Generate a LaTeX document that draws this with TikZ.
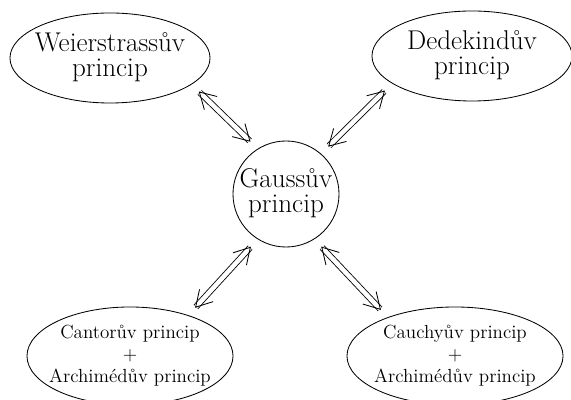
\documentclass[tikz,border=0pt]{standalone}
\usepackage{tikz}
\usetikzlibrary{arrows.meta, shapes.geometric}

\newcommand{\principtext}[1]{\makebox[0pt]{\begin{tabular}{@{}c@{}}#1\end{tabular}}}

\begin{document}
\begin{tikzpicture}[x=0.025cm, y=0.025cm, line width=0.6pt,
        upperprinciple/.style={ellipse, draw=black, inner sep=0pt, minimum width=5cm, minimum height=2.25cm,
            font=\fontsize{19.3}{16.5}\selectfont},
        lowerprinciple/.style={ellipse, draw=black, inner sep=0pt, minimum height=2.45cm,
            font=\fontsize{13.5}{15.6}\selectfont},
        centreprinciple/.style={circle, draw=black, inner sep=0pt, minimum size=2.65cm,
            font=\fontsize{19.3}{16.5}\selectfont},
        equiv/.style={double, double distance=3.2pt,
            {Straight Barb[angle=60:13pt, line width=0.6pt]}-{Straight Barb[angle=60:13pt, line width=0.6pt]},
            shorten <=0.25cm, shorten >=0.25cm}]
        \useasboundingbox (0,0) rectangle (571,400);

        \node[centreprinciple] (gauss) at (286,206) {\principtext{Gaussův\\princip}};
        \node[upperprinciple] (weier) at (110,342) {\principtext{Weierstrassův\\princip}};
        \node[upperprinciple] (dedek) at (472,344) {\principtext{Dedekindův\\princip}};
        \node[lowerprinciple, minimum width=5.15cm] (cantor) at (130,44)
            {\principtext{Cantorův princip\\+\\Archimédův princip}};
        \node[lowerprinciple, minimum width=5.4cm] (cauchy) at (455,44)
            {\principtext{Cauchyův princip\\+\\Archimédův princip}};

        \draw[equiv] (weier.-18.6) -- (gauss.122.4);
        \draw[equiv] (dedek.199.2) -- (gauss.49.8);
        \draw[equiv] (cantor.35.4) -- (gauss.238);
        \draw[equiv] (cauchy.150.7) -- (gauss.-58.7);
    \end{tikzpicture}
\end{document}
